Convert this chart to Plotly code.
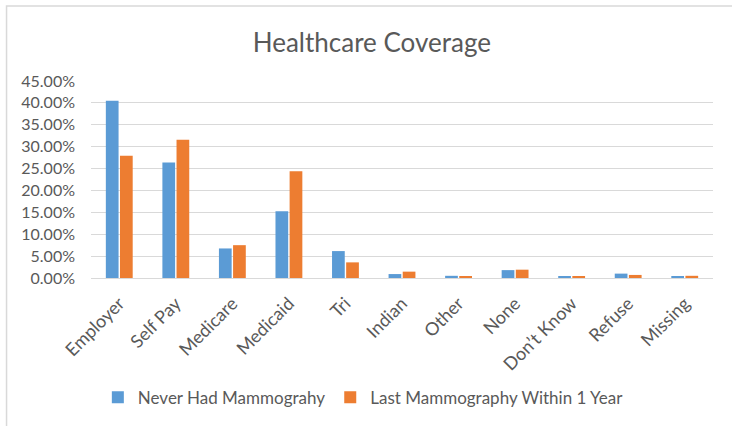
import plotly.graph_objects as go

categories = ["Employer", "Self Pay", "Medicare", "Medicaid", "Tri", "Indian",
              "Other", "None", "Don\u2019t Know", "Refuse", "Missing"]
never_had = [0.405, 0.264, 0.0675, 0.1525, 0.0615, 0.009, 0.005, 0.018, 0.003, 0.010, 0.003]
within_1yr = [0.279, 0.316, 0.075, 0.244, 0.0357, 0.0145, 0.003, 0.019, 0.003, 0.007, 0.005]
y_ticks = [0, 0.05, 0.10, 0.15, 0.20, 0.25, 0.30, 0.35, 0.40, 0.45]

FONT = "Lato"
GREY = "#595959"

fig = go.Figure()
fig.add_trace(go.Bar(x=categories, y=never_had, name="Never Had Mammograhy",
                     marker=dict(color="#5B9BD5", line=dict(width=0))))
fig.add_trace(go.Bar(x=categories, y=within_1yr, name="Last Mammography Within 1 Year",
                     marker=dict(color="#ED7D31", line=dict(width=0))))

fig.update_layout(
    width=732, height=426,
    margin=dict(l=91, r=19, t=81, b=147),
    paper_bgcolor="white", plot_bgcolor="white",
    font=dict(family=FONT, color=GREY, size=14),
    title=dict(text="Healthcare Coverage", x=0.508, xanchor="center",
               y=0.9, yanchor="middle", yref="container",
               font=dict(family=FONT, size=26, color=GREY)),
    barmode="group", bargap=0.5, bargroupgap=0.1,
    showlegend=True,
    legend=dict(orientation="h", x=0.011, xanchor="left", y=-0.60, yanchor="middle",
                font=dict(family=FONT, size=17, color=GREY),
                itemwidth=30, traceorder="normal"),
    xaxis=dict(tickangle=-45, showgrid=False, showline=True, linecolor="#D9D9D9",
               linewidth=1, ticks="", ticklabelstandoff=7,
               tickfont=dict(family=FONT, size=18, color=GREY)),
    yaxis=dict(range=[0, 0.45], tickvals=y_ticks, tickformat=".2%",
               showgrid=True, gridcolor="#D9D9D9", gridwidth=1, zeroline=False,
               showline=False, ticks="", ticklen=0, ticklabelstandoff=15,
               tickfont=dict(family=FONT, size=16, color=GREY)),
    shapes=[dict(type="rect", xref="paper", yref="paper",
                 x0=-0.1358, x1=1.2, y0=-1.0, y1=1.3806,
                 line=dict(color="#D9D9D9", width=1.5), fillcolor="rgba(0,0,0,0)",
                 layer="below")],
)

fig.write_html("out.html")
